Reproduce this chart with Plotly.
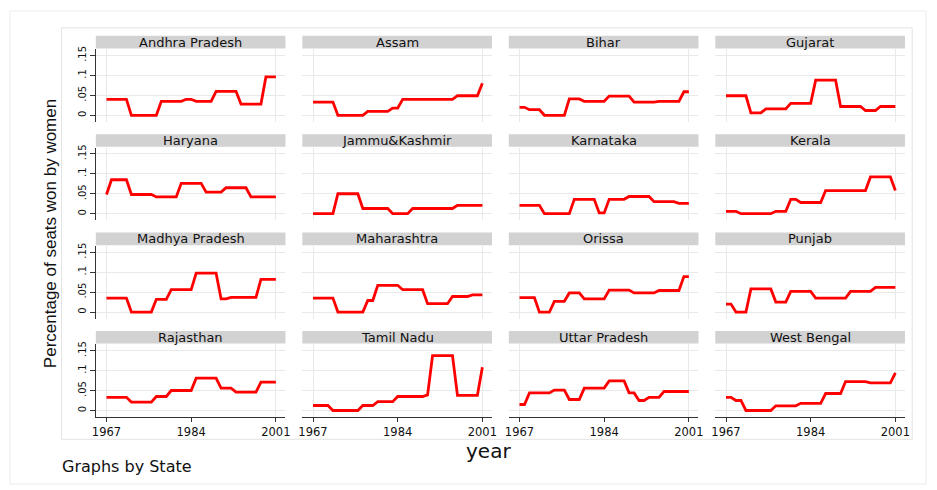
import plotly.graph_objects as go

# ---------------- data ----------------
years = list(range(1967, 2002))

states = ["Andhra Pradesh", "Assam", "Bihar", "Gujarat",
          "Haryana", "Jammu&Kashmir", "Karnataka", "Kerala",
          "Madhya Pradesh", "Maharashtra", "Orissa", "Punjab",
          "Rajasthan", "Tamil Nadu", "Uttar Pradesh", "West Bengal"]

andhra_pradesh = [.040,.040,.040,.040,.040,0,0,0,0,0,0,.035,.035,.035,.035,.035,.040,.040,.035,.035,.035,.035,.060,.060,.060,.060,.060,.028,.028,.028,.028,.028,.096,.096,.096]
assam = [.033,.033,.033,.033,.033,0,0,0,0,0,0,.010,.010,.010,.010,.010,.018,.018,.040,.040,.040,.040,.040,.040,.040,.040,.040,.040,.040,.049,.049,.049,.049,.049,.080]
bihar = [.020,.020,.014,.014,.014,0,0,0,0,0,.041,.041,.041,.035,.035,.035,.035,.035,.048,.048,.048,.048,.048,.033,.033,.033,.033,.033,.035,.035,.035,.035,.035,.059,.059]
gujarat = [.049,.049,.049,.049,.049,.006,.006,.006,.016,.016,.016,.016,.016,.030,.030,.030,.030,.030,.088,.088,.088,.088,.088,.022,.022,.022,.022,.022,.012,.012,.012,.022,.022,.022,.022]
haryana = [.048,.085,.085,.085,.085,.048,.048,.048,.048,.048,.042,.042,.042,.042,.042,.076,.076,.076,.076,.076,.054,.054,.054,.054,.065,.065,.065,.065,.065,.042,.042,.042,.042,.042,.042]
jammu_kashmir = [0,0,0,0,0,.050,.050,.050,.050,.050,.013,.013,.013,.013,.013,.013,0,0,0,0,.013,.013,.013,.013,.013,.013,.013,.013,.013,.021,.021,.021,.021,.021,.021]
karnataka = [.021,.021,.021,.021,.021,0,0,0,0,0,0,.036,.036,.036,.036,.036,.002,.002,.036,.036,.036,.036,.043,.043,.043,.043,.043,.030,.030,.030,.030,.030,.026,.026,.026]
kerala = [.006,.006,.006,0,0,0,0,0,0,0,.006,.006,.006,.036,.036,.028,.028,.028,.028,.028,.058,.058,.058,.058,.058,.058,.058,.058,.058,.092,.092,.092,.092,.092,.058]
madhya_pradesh = [.035,.035,.035,.035,.035,0,0,0,0,0,.032,.032,.032,.056,.056,.056,.056,.056,.0975,.0975,.0975,.0975,.0975,.033,.033,.037,.037,.037,.037,.037,.037,.082,.082,.082,.082]
maharashtra = [.035,.035,.035,.035,.035,0,0,0,0,0,0,.029,.029,.067,.067,.067,.067,.067,.056,.056,.056,.056,.056,.021,.021,.021,.021,.021,.039,.039,.039,.039,.043,.043,.043]
orissa = [.036,.036,.036,.036,0,0,0,.027,.027,.027,.048,.048,.048,.033,.033,.033,.033,.033,.055,.055,.055,.055,.055,.048,.048,.048,.048,.048,.054,.054,.054,.054,.054,.089,.089]
punjab = [.020,.020,0,0,0,.058,.058,.058,.058,.058,.025,.025,.025,.052,.052,.052,.052,.052,.035,.035,.035,.035,.035,.035,.035,.052,.052,.052,.052,.052,.062,.062,.062,.062,.062]
rajasthan = [.033,.033,.033,.033,.033,.021,.021,.021,.021,.021,.035,.035,.035,.050,.050,.050,.050,.050,.081,.081,.081,.081,.081,.056,.056,.056,.046,.046,.046,.046,.046,.071,.071,.071,.071]
tamil_nadu = [.0125,.0125,.0125,.0125,0,0,0,0,0,0,.0125,.0125,.0125,.022,.022,.022,.022,.035,.035,.035,.035,.035,.035,.039,.1375,.1375,.1375,.1375,.1375,.038,.038,.038,.038,.038,.108]
uttar_pradesh = [.015,.015,.044,.044,.044,.044,.044,.051,.051,.051,.0275,.0275,.0275,.056,.056,.056,.056,.056,.074,.074,.074,.074,.044,.044,.025,.025,.033,.033,.033,.0475,.0475,.0475,.0475,.0475,.0475]
west_bengal = [.033,.033,.025,.025,0,0,0,0,0,0,.0117,.0117,.0117,.0117,.0117,.018,.018,.018,.018,.018,.0425,.0425,.0425,.0425,.0725,.0725,.0725,.0725,.0725,.069,.069,.069,.069,.069,.094]

series = [andhra_pradesh, assam, bihar, gujarat, haryana, jammu_kashmir, karnataka, kerala,
          madhya_pradesh, maharashtra, orissa, punjab, rajasthan, tamil_nadu, uttar_pradesh, west_bengal]

x_tickvals = [1967, 1984, 2001]
x_ticktext = ["1967", "1984", "2001"]
y_tickvals = [0, 0.05, 0.1, 0.15]
y_ticktext = ["0", ".05", ".1", ".15"]

# ---------------- layout helpers ----------------
W, H = 937, 490
def fx(px):
    return px / W
def fy(py):
    return 1 - py / H

GRID = "#e9e9e9"
AXC = "#333333"
TXT = "#111111"

fig = go.Figure()
layout = dict(width=W, height=H, margin=dict(l=0, r=0, t=0, b=0), autosize=False,
              paper_bgcolor="white", plot_bgcolor="white", showlegend=False)
shapes, annotations = [], []

PX_PER_YEAR = 5.03
PX_PER_UNIT = 402.0
for i, (name, vals) in enumerate(zip(states, series)):
    r, c = divmod(i, 4)
    left = 92.7 + 208.5 * c
    right = left + 191.5
    zero = 113 + 99 * r
    ptop = zero - 66.5
    pbot = zero + 6.7
    sfx = "" if i == 0 else str(i + 1)
    fig.add_trace(go.Scatter(x=years, y=vals, mode="lines",
                             line=dict(color="#ff0000", width=2.8),
                             xaxis="x" + sfx, yaxis="y" + sfx,
                             hoverinfo="skip", showlegend=False))
    bottom_row = (r == 3)
    first_col = (c == 0)
    layout["xaxis" + sfx] = dict(
        domain=[fx(left), fx(right)], anchor="y" + sfx,
        range=[1967 - 10.8 / PX_PER_YEAR, 1967 + (191.5 - 10.8) / PX_PER_YEAR],
        tickmode="array", tickvals=x_tickvals, ticktext=x_ticktext,
        showticklabels=bottom_row, ticks="outside" if bottom_row else "",
        ticklen=4, tickcolor=AXC, tickwidth=1,
        showline=bottom_row, linecolor=AXC, linewidth=1,
        showgrid=False, zeroline=False, fixedrange=True,
        tickfont=dict(family="DejaVu Sans", size=11.5, color=TXT),
        minor=dict(tickmode="array", tickvals=[1967, 2001], showgrid=True,
                   gridcolor=GRID, gridwidth=1, ticks=""),
    )
    layout["yaxis" + sfx] = dict(
        domain=[fy(pbot), fy(ptop)], anchor="x" + sfx,
        range=[-6.7 / PX_PER_UNIT, 66.5 / PX_PER_UNIT],
        tickmode="array", tickvals=y_tickvals, ticktext=y_ticktext,
        showticklabels=first_col, ticks="outside" if first_col else "",
        ticklen=5, tickcolor=AXC, tickwidth=1, tickangle=-90,
        showline=first_col, linecolor=AXC, linewidth=1,
        showgrid=True, gridcolor=GRID, gridwidth=1, zeroline=False, fixedrange=True,
        tickfont=dict(family="DejaVu Sans", size=10, color=TXT),
    )
    # strip (facet header)
    shapes.append(dict(type="rect", xref="paper", yref="paper",
                       x0=fx(left), x1=fx(right), y0=fy(zero - 67.3), y1=fy(zero - 80),
                       fillcolor="#d2d2d2", line=dict(width=0), layer="below"))
    annotations.append(dict(text=name, xref="paper", yref="paper",
                            x=fx((left + right) / 2), y=fy(zero - 73.6),
                            xanchor="center", yanchor="middle", showarrow=False,
                            font=dict(family="DejaVu Sans", size=13, color=TXT)))

# frames
shapes.append(dict(type="rect", xref="paper", yref="paper",
                   x0=fx(6), x1=fx(931), y0=fy(484), y1=fy(8),
                   line=dict(color="#ececec", width=1), fillcolor="rgba(0,0,0,0)", layer="below"))
shapes.append(dict(type="rect", xref="paper", yref="paper",
                   x0=fx(58), x1=fx(917), y0=fy(439), y1=fy(25),
                   line=dict(color="#e3e3e3", width=1), fillcolor="rgba(0,0,0,0)", layer="below"))

annotations.append(dict(text="Percentage of seats won by women", xref="paper", yref="paper",
                        x=fx(47), y=fy(232), textangle=-90, xanchor="center", yanchor="middle",
                        showarrow=False, font=dict(family="Liberation Sans", size=17, color=TXT)))
annotations.append(dict(text="year", xref="paper", yref="paper",
                        x=fx(489), y=fy(451), xanchor="center", yanchor="middle",
                        showarrow=False, font=dict(family="DejaVu Sans", size=20, color=TXT)))
annotations.append(dict(text="Graphs by State", xref="paper", yref="paper",
                        x=fx(57), y=fy(466), xanchor="left", yanchor="middle",
                        showarrow=False, font=dict(family="DejaVu Sans", size=16, color=TXT)))

layout["shapes"] = shapes
layout["annotations"] = annotations
fig.update_layout(**layout)
fig.write_html("out.html", config={"displayModeBar": False},
               post_script="document.body.style.margin='0';document.body.style.overflow='hidden';")
